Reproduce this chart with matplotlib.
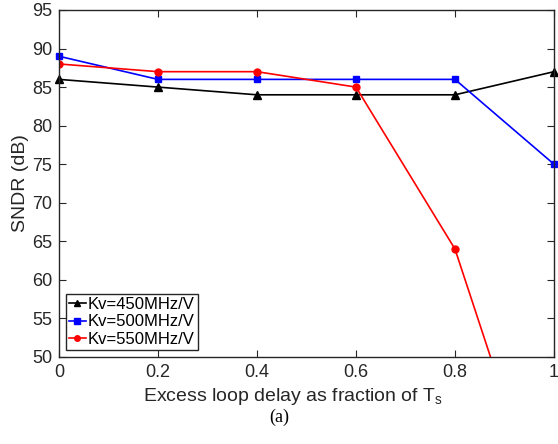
import matplotlib
matplotlib.use('Agg')
import matplotlib.pyplot as plt

# excess loop delay (fraction of Ts)
delay = [0, 0.2, 0.4, 0.6, 0.8, 1.0]
sndr_450 = [86, 85, 84, 84, 84, 87]
sndr_500 = [89, 86, 86, 86, 86, 75]
sndr_550 = [88, 87, 87, 85, 64, 25]

x_ticks = [0, 0.2, 0.4, 0.6, 0.8, 1]
x_tick_labels = ['0', '0.2', '0.4', '0.6', '0.8', '1']
y_ticks = [50, 55, 60, 65, 70, 75, 80, 85, 90, 95]

plt.rcParams['font.family'] = ['Liberation Sans', 'DejaVu Sans']
plt.rcParams['mathtext.fontset'] = 'custom'
plt.rcParams['mathtext.rm'] = 'Liberation Sans'
plt.rcParams['mathtext.it'] = 'Liberation Sans'

fig = plt.figure(figsize=(5.58, 4.44), dpi=100)
ax = fig.add_axes([0.1057, 0.196, 0.8871, 0.7815])

ax.plot(delay, sndr_450, color='black', marker='^', markersize=6, linewidth=1.2,
        label='Kv=450MHz/V', clip_on=False)
ax.plot(delay, sndr_500, color='blue', marker='s', markersize=5, linewidth=1.2,
        label='Kv=500MHz/V', clip_on=False)
ax.plot(delay, sndr_550, color='red', marker='o', markersize=5, linewidth=1.2,
        label='Kv=550MHz/V')

ax.set_xlim(0, 1)
ax.set_ylim(50, 95)
ax.set_xticks(x_ticks)
ax.set_xticklabels(x_tick_labels)
ax.set_yticks(y_ticks)
ax.tick_params(direction='in', top=True, right=True, labelsize=13,
               length=5, width=0.8, colors='#262626', pad=5)
for s in ax.spines.values():
    s.set_linewidth(1.0)
    s.set_color('#262626')

ax.set_xlabel('Excess loop delay as fraction of T$_\\mathrm{s}$', fontsize=14, color='#262626', labelpad=4)
ax.xaxis.label.set_x(0.472)
ax.set_ylabel('SNDR (dB)', fontsize=14, color='#262626', labelpad=2)

leg = ax.legend(loc='lower left', fontsize=12, handlelength=1.0, handletextpad=0.1,
                borderpad=0.2, labelspacing=0.15, borderaxespad=0.4, fancybox=False,
                framealpha=1, markerscale=0.8)
leg.get_frame().set_edgecolor('#262626')
leg.get_frame().set_linewidth(1.0)

fig.text(0.5, 0.061, '(a)', ha='center', va='center', fontsize=13,
         family=['Liberation Serif', 'DejaVu Serif'])

fig.savefig('out.png', dpi=100)
